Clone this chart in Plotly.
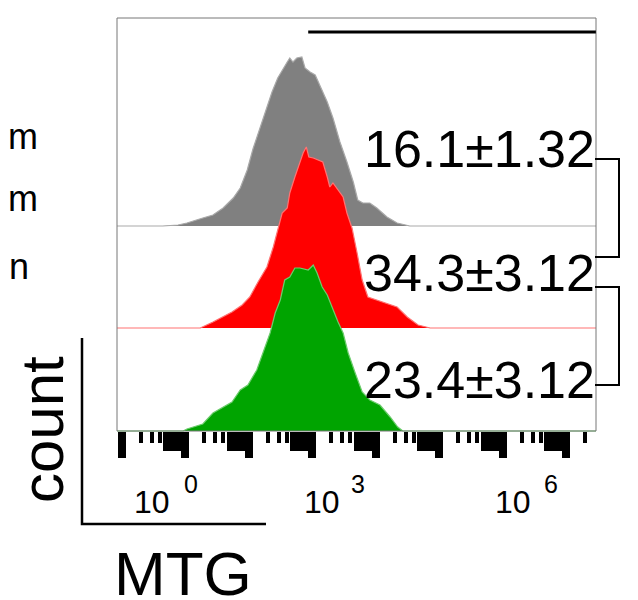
import numpy as np
import plotly.graph_objects as go

# ---------------- data (x in log10 MTG decades, y = cell count) ----------------
gray_x = [-1.10, -0.35, -0.11, 0.03, 0.28, 0.44, 0.60, 0.76, 0.87, 0.98, 1.07, 1.18, 1.26, 1.37,
          1.46, 1.53, 1.61, 1.65, 1.70, 1.76, 1.84, 1.89, 1.97, 2.05, 2.13, 2.24, 2.33, 2.44,
          2.55, 2.65, 2.72, 2.80, 2.91, 3.02, 3.18, 3.34, 3.54, 6.50]
gray_count = [0, 0, 1, 3, 8, 11, 18, 28, 38, 56, 77, 98, 114, 134,
              148, 156, 164, 168, 164, 168, 169, 158, 154, 151, 139, 124, 108, 84,
              64, 44, 26, 23, 23, 18, 9, 3, 0, 0]

red_x = [-1.10, 0.24, 0.44, 0.60, 0.74, 0.90, 1.02, 1.15, 1.29, 1.39, 1.46, 1.53, 1.61, 1.65,
         1.73, 1.78, 1.86, 1.91, 1.95, 2.02, 2.09, 2.17, 2.24, 2.28, 2.33, 2.41, 2.49, 2.55,
         2.63, 2.71, 2.79, 2.88, 3.02, 3.18, 3.34, 3.50, 3.67, 3.86, 6.50]
red_count = [0, 0, 6, 11, 16, 23, 31, 46, 61, 81, 98, 115, 120, 135,
             151, 161, 175, 181, 171, 170, 168, 166, 151, 141, 145, 138, 131, 115,
             100, 75, 48, 31, 28, 25, 21, 11, 3, 0, 0]

green_x = [-1.10, -0.03, 0.03, 0.28, 0.44, 0.60, 0.74, 0.87, 0.99, 1.13, 1.23, 1.34, 1.42, 1.50,
           1.57, 1.65, 1.73, 1.81, 1.94, 2.02, 2.08, 2.16, 2.24, 2.33, 2.41, 2.49, 2.57, 2.68,
           2.79, 2.91, 3.07, 3.23, 3.35, 3.43, 6.50]
green_count = [0, 0, 2, 7, 18, 24, 29, 41, 46, 61, 78, 98, 118, 131,
               151, 154, 163, 163, 161, 166, 158, 144, 136, 121, 109, 98, 78, 58,
               39, 31, 26, 14, 4, 0, 0]

stats_text = ["16.1±1.32", "34.3±3.12", "23.4±3.12"]
significance = ["****", "**"]
row_labels = ["m", "m", "n"]
gate = [1.94, 6.47]
major_decades = [-1, 0, 1, 2, 3, 4, 5, 6]
minor_small = [2, 3, 4]
minor_mid = [5, 6, 7, 8, 9]
tick_base = ["10", "10", "10"]
tick_exp = ["0", "3", "6"]
tick_base_x = [-0.52, 2.16, 5.17]
tick_exp_x = [0.10, 2.72, 5.76]

x_range = [-1.071, 6.472]

# ---------------- layout geometry ----------------
# the page body adds an 8px offset; all pixel targets below are page pixels
OFF = 8
W, H = 630, 592
ML, MT = 117 - OFF, 18 - OFF
PW, PH = 479, 415
MR = W - ML - PW
MB = H - MT - PH


def px(xp):
    return (xp - OFF - ML) / PW


def py(yp):
    return (H - MB - (yp - OFF)) / PH


dom_h = 200 / PH
base_px = [226, 328, 431]
domains = [[py(b + 2), py(b + 2) + dom_h] for b in base_px]

FONT = "Liberation Sans, Arial, sans-serif"

fig = go.Figure()
fills = ["#808080", "#ff0000", "#00a400"]
lines = ["#a9a9a9", "#ff7373", "#6ccc6c"]
series = [(gray_x, gray_count), (red_x, red_count), (green_x, green_count)]
yaxes = ["y", "y2", "y3"]
for (xs, ys), fc, lc, ya in zip(series, fills, lines, yaxes):
    fig.add_trace(go.Scatter(x=xs, y=ys, mode="lines", fill="tozeroy",
                             fillcolor=fc, line=dict(color=lc, width=1.2),
                             xaxis="x", yaxis=ya, hoverinfo="skip"))

# empty traces for the minor-tick axes
fig.add_trace(go.Scatter(x=[], y=[], xaxis="x4", yaxis="y3"))
fig.add_trace(go.Scatter(x=[], y=[], xaxis="x5", yaxis="y3"))

small_vals = [d + np.log10(k) for d in major_decades for k in minor_small]
mid_vals = [d + np.log10(k) for d in major_decades for k in minor_mid]
axis_pos = py(431)

common_x = dict(range=x_range, showgrid=False, zeroline=False, showline=False,
                showticklabels=False, ticks="outside", tickcolor="black",
                anchor="free", position=axis_pos, tickmode="array")

layout = dict(
    width=W, height=H, margin=dict(l=ML, r=MR, t=MT, b=MB, pad=0),
    paper_bgcolor="white", plot_bgcolor="rgba(0,0,0,0)", showlegend=False,
    xaxis=dict(common_x, tickvals=major_decades, ticklen=26, tickwidth=8),
    xaxis4=dict(common_x, tickvals=small_vals, ticklen=11, tickwidth=4, overlaying="x"),
    xaxis5=dict(common_x, tickvals=mid_vals, ticklen=19, tickwidth=4.5, overlaying="x"),
)
for ya, dm in zip(["yaxis", "yaxis2", "yaxis3"], domains):
    layout[ya] = dict(domain=dm, range=[-2, 198], visible=False, fixedrange=True)
fig.update_layout(**layout)

shapes = []
# panel frame
shapes.append(dict(type="rect", xref="paper", yref="paper", x0=px(117), x1=px(596),
                   y0=py(431), y1=py(18), line=dict(color="#777777", width=1)))
# gate line
shapes.append(dict(type="line", xref="x", yref="paper", x0=gate[0], x1=gate[1],
                   y0=py(32), y1=py(32), line=dict(color="black", width=3)))
# brackets
for ya, yb in [(159, 257), (287, 385)]:
    x0, x1 = px(595), px(619)
    shapes.append(dict(type="path", xref="paper", yref="paper",
                       path=f"M {x0},{py(ya)} L {x1},{py(ya)} L {x1},{py(yb)} L {x0},{py(yb)}",
                       line=dict(color="black", width=2)))
# count / MTG corner axes
shapes.append(dict(type="path", xref="paper", yref="paper",
                   path=f"M {px(82)},{py(338)} L {px(82)},{py(524)} L {px(266)},{py(524)}",
                   line=dict(color="black", width=2.5)))
fig.update_layout(shapes=shapes)

ann = []
for txt, yc in zip(stats_text, [148.5, 272.5, 379.5]):
    ann.append(dict(text=txt, xref="paper", yref="paper", x=px(597), y=py(yc),
                    xanchor="right", yanchor="middle", showarrow=False,
                    font=dict(family=FONT, size=52, color="black")))
for txt, yc in zip(significance, [208.5, 336]):
    ann.append(dict(text=txt, xref="paper", yref="paper", x=px(648), y=py(yc),
                    xanchor="center", yanchor="middle", showarrow=False, textangle=-90,
                    font=dict(family=FONT, size=40, color="black")))
for txt, yc, xr in zip(row_labels, [136, 198.5, 266], [40, 40, 31]):
    ann.append(dict(text=txt, xref="paper", yref="paper", x=px(xr), y=py(yc),
                    xanchor="right", yanchor="middle", showarrow=False,
                    font=dict(family=FONT, size=36, color="black")))
for txt, xv in zip(tick_base, tick_base_x):
    ann.append(dict(text=txt, xref="x", yref="paper", x=xv, y=py(501.9),
                    xanchor="center", yanchor="middle", showarrow=False,
                    font=dict(family=FONT, size=32, color="black")))
for txt, xv in zip(tick_exp, tick_exp_x):
    ann.append(dict(text=txt, xref="x", yref="paper", x=xv, y=py(483.7),
                    xanchor="center", yanchor="middle", showarrow=False,
                    font=dict(family=FONT, size=25, color="black")))
ann.append(dict(text="count", xref="paper", yref="paper", x=px(42), y=py(430),
                xanchor="center", yanchor="middle", showarrow=False, textangle=-90,
                font=dict(family=FONT, size=60, color="black")))
ann.append(dict(text="MTG", xref="paper", yref="paper", x=px(182.5), y=py(573.5),
                xanchor="center", yanchor="middle", showarrow=False,
                font=dict(family=FONT, size=62, color="black")))
fig.update_layout(annotations=ann)

fig.write_html("out.html")
